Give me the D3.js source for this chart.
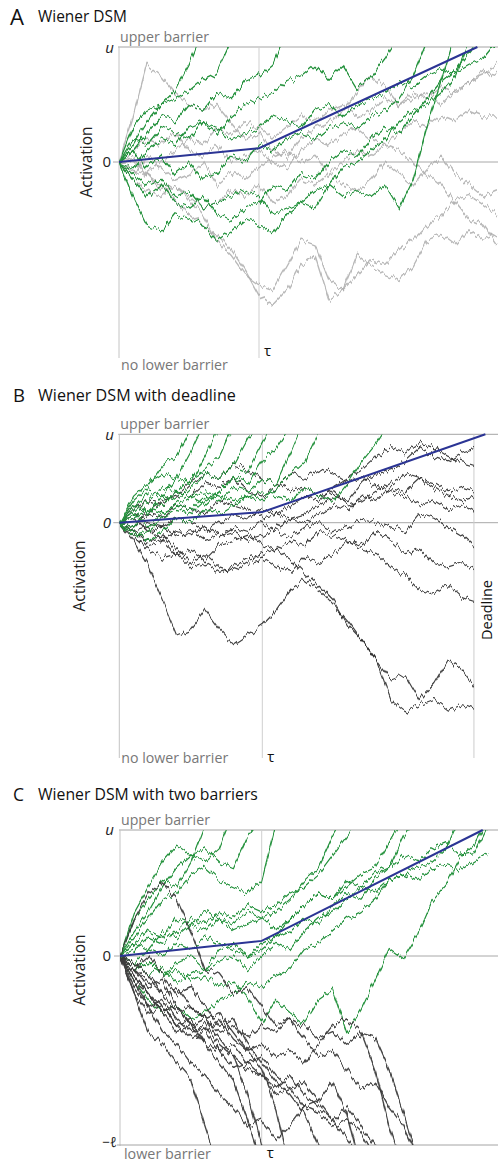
<!DOCTYPE html>
<html>
<head>
<meta charset="utf-8">
<script src="https://cdn.jsdelivr.net/npm/d3@7"></script>
<style>
  body { margin: 0; background: #fff; }
  svg { display: block; }
  text { font-family: "Open Sans", "DejaVu Sans", sans-serif; }
</style>
</head>
<body>
<svg id="fig" width="498" height="1163"></svg>
<script>
// Sampling step of every simulated path, in units of tau.
const dt = 0.1;

// Piecewise drift of the diffusion (mean trajectory): slow before tau, faster after.
const driftTimes  = [0, 1, 2.56];
const driftLevels = [0, 0.12, 1];

// Barrier levels (activation units, upper barrier u = 1).
const upperBarrier = 1;
const lowerBarrier = -1.5;
const deadlineTime = 2.48;

// Panel A: Wiener DSM, no lower barrier.
const wienerHits = [
  [0,0.3,0.45,0.5,0.62,0.85,1.15],
  [0,0.15,0.35,0.5,0.55,0.62,0.72,0.78,1.05],
  [0,0.1,0.25,0.4,0.35,0.5,0.45,0.6,0.55,0.7,0.75,0.85,1.15],
  [0,-0.05,0.1,0.2,0.15,0.3,0.35,0.25,0.4,0.5,0.55,0.6,0.7,0.75,0.85,0.72,0.83,0.63,0.74,0.9,1.1],
  [0,-0.1,-0.2,-0.15,-0.3,-0.25,-0.4,-0.35,-0.3,-0.25,-0.3,-0.45,-0.4,-0.35,-0.4,-0.2,-0.3,-0.25,-0.3,-0.2,-0.4,-0.15,0.3,0.7,1.1],
  [0,-0.3,-0.55,-0.6,-0.45,-0.5,-0.55,-0.68,-0.6,-0.5,-0.55,-0.62,-0.45,-0.35,-0.25,-0.2,-0.05,0.0,0.1,0.2,0.35,0.45,0.5,0.6,0.75,1.05],
  [0,0.1,-0.05,0.05,-0.1,0.0,-0.15,-0.1,0.05,0.0,0.15,0.1,0.2,0.25,0.2,0.3,0.35,0.3,0.4,0.45,0.55,0.75,1.05],
  [0,0.2,0.15,0.3,0.25,0.2,0.35,0.3,0.2,0.25,0.3,0.4,0.35,0.3,0.45,0.5,0.4,0.5,0.55,0.6,0.7,0.65,0.75,0.8,0.78,0.85,0.9,1.05],
  [0,-0.15,-0.3,-0.2,-0.35,-0.4,-0.3,-0.45,-0.5,-0.4,-0.35,-0.2,-0.25,-0.1,-0.15,0.0,0.1,0.05,0.2,0.3,0.25,0.4,0.55,0.7,0.8,0.95,1.1]
];
const wienerOpen = [
  [0,0.4,0.85,0.75,0.6,0.5,0.45,0.5,0.35,0.2,0.25,0.1,0.05,0.2,0.3,0.35,0.45,0.6,0.75,0.65,0.5,0.55,0.6,0.5,0.62,0.7,0.75,0.85],
  [0,0.1,0.2,0.15,0.25,0.1,0.05,0.15,0.0,0.05,0.1,0.0,-0.05,0.1,0.2,0.15,0.25,0.3,0.2,0.15,0.25,0.35,0.3,0.4,0.35,0.45,0.4,0.4],
  [0,-0.1,0.05,-0.05,-0.15,-0.1,0.0,-0.2,-0.1,-0.15,-0.05,0.05,0.1,0.0,0.05,-0.1,0.0,0.1,0.05,0.15,0.1,0.0,-0.1,-0.2,-0.35,-0.5,-0.55,-0.72],
  [0,0.02,-0.11,-0.2,-0.33,-0.46,-0.55,-0.63,-0.76,-0.94,-1.16,-1.24,-1.11,-0.89,-0.81,-1.2,-1.11,-0.98,-0.85,-0.89,-0.76,-0.68,-0.55,-0.46,-0.33,-0.29,-0.37,-0.46],
  [0,-0.07,-0.11,-0.24,-0.2,-0.33,-0.46,-0.68,-0.81,-0.98,-1.07,-1.11,-0.9,-0.68,-0.72,-1.03,-1.11,-0.81,-0.9,-0.98,-1.03,-0.9,-0.68,-0.63,-0.72,-0.59,-0.68,-0.63],
  [0,0.05,-0.1,0.0,0.1,0.2,0.15,0.3,0.25,0.35,0.3,0.2,0.3,0.4,0.35,0.45,0.5,0.4,0.45,0.55,0.5,0.6,0.55,0.65,0.6,0.7,0.78,0.75],
  [0,-0.15,-0.25,-0.3,-0.2,-0.3,-0.4,-0.35,-0.25,-0.3,-0.2,-0.35,-0.3,-0.15,-0.2,-0.1,-0.2,-0.25,-0.15,0.0,-0.1,-0.2,-0.05,0.05,-0.1,-0.2,-0.3,-0.25]
];

// Panel B: Wiener DSM with deadline.
const deadlineHits = [
  [0,0.3,0.45,0.55,0.5,0.8,1.15],
  [0,0.15,0.35,0.3,0.5,0.45,0.75,1.1],
  [0,0.1,0.25,0.4,0.35,0.5,0.6,0.75,1.1],
  [0,0.2,0.1,0.3,0.25,0.4,0.55,0.5,0.65,0.95,1.1],
  [0,-0.05,0.15,0.2,0.35,0.3,0.2,0.35,0.5,0.6,0.9,1.2],
  [0,0.1,-0.05,0.1,0.2,0.15,0.3,0.25,0.4,0.35,0.5,0.45,0.8,1.2],
  [0,-0.1,-0.2,-0.1,0.05,0.0,0.15,0.1,0.2,0.3,0.25,0.4,0.55,0.7,1.05],
  [0,0.05,0.15,0.1,0.2,0.3,0.35,0.3,0.25,0.3,0.35,0.3,0.25,0.4,0.3,0.25,0.45,0.7,0.9,1.15],
  [0,0.25,0.4,0.65,0.75,1.05],
  [0,-0.15,-0.1,0.05,0.15,0.1,0.25,0.35,0.5,0.45,0.7,0.85,1.1]
];
const deadlineOpen = [
  [0,-0.2,-0.48,-0.87,-1.27,-1.21,-0.99,-1.21,-1.38,-1.27,-1.16,-0.99,-0.76,-0.65,-0.76,-0.93,-1.11,-1.33,-1.56,-2.01,-2.14,-2.06,-2.0,-2.12,-2.06,-2.12],
  [0,-0.09,-0.25,-0.2,-0.37,-0.31,-0.42,-0.25,-0.2,-0.14,-0.25,-0.31,-0.42,-0.59,-0.71,-0.88,-1.16,-1.33,-1.56,-1.78,-1.72,-2.0,-1.83,-1.55,-1.67,-1.89],
  [0,-0.15,-0.3,-0.4,-0.35,-0.5,-0.45,-0.55,-0.5,-0.4,-0.35,-0.3,-0.2,-0.25,-0.1,-0.15,-0.2,-0.3,-0.35,-0.5,-0.6,-0.75,-0.8,-0.7,-0.85,-0.9],
  [0,-0.1,-0.2,-0.15,-0.3,-0.45,-0.35,-0.5,-0.55,-0.45,-0.4,-0.5,-0.55,-0.4,-0.45,-0.35,-0.2,-0.25,-0.1,-0.2,-0.35,-0.3,-0.45,-0.5,-0.45,-0.55],
  [0,0.1,0.0,-0.05,-0.15,-0.1,-0.2,-0.15,-0.05,-0.1,0.0,-0.1,-0.15,-0.05,0.0,-0.1,-0.05,0.05,0.0,-0.05,-0.1,0.1,0.05,-0.05,-0.15,-0.3],
  [0,0.15,0.25,0.2,0.35,0.3,0.45,0.4,0.5,0.35,0.3,0.4,0.55,0.5,0.6,0.55,0.45,0.5,0.4,0.35,0.3,0.2,0.25,0.15,0.2,0.1],
  [0,0.2,0.1,0.25,0.3,0.45,0.55,0.5,0.65,0.6,0.5,0.45,0.35,0.4,0.3,0.35,0.2,0.25,0.35,0.45,0.55,0.5,0.45,0.35,0.4,0.35],
  [0,-0.05,0.1,0.05,0.2,0.15,0.1,0.25,0.2,0.15,0.05,0.1,0.2,0.3,0.25,0.4,0.5,0.6,0.75,0.85,0.8,0.9,0.85,0.75,0.7,0.65],
  [0,0.05,-0.1,-0.05,0.05,0.0,-0.1,0.0,0.1,0.05,0.15,0.1,0.05,0.1,0.2,0.3,0.25,0.45,0.55,0.6,0.7,0.85,0.75,0.7,0.8,0.85],
  [0,-0.1,-0.05,-0.2,-0.1,-0.15,-0.05,-0.15,-0.1,-0.2,-0.15,-0.05,0.05,0.0,0.1,0.2,0.15,0.3,0.25,0.4,0.35,0.5,0.4,0.3,0.25,0.3]
];

// Panel C: Wiener DSM with two barriers.
const twoBarrierUpper = [
  [0,0.3,0.45,0.6,0.55,0.75,1.05],
  [0,0.2,0.35,0.55,0.7,0.8,0.75,0.85,1.15],
  [0,0.35,0.55,0.75,0.88,0.8,0.85,0.75,0.7,0.95,1.1],
  [0,0.15,0.3,0.45,0.5,0.65,0.7,0.6,0.55,0.5,0.6,1.05],
  [0,0.1,0.2,0.15,0.3,0.25,0.35,0.3,0.2,0.25,0.3,0.35,0.45,0.6,0.7,0.95,1.15],
  [0,0.05,0.15,0.1,0.2,0.3,0.25,0.35,0.3,0.4,0.35,0.4,0.5,0.55,0.65,0.8,0.95,1.1],
  [0,-0.05,0.05,0.0,0.1,0.05,0.15,0.1,0.05,0.0,0.1,0.15,0.3,0.4,0.5,0.45,0.55,0.65,0.7,0.9,1.1],
  [0,-0.1,-0.05,-0.15,-0.05,0.0,-0.1,0.05,0.1,0.0,0.05,0.15,0.2,0.3,0.25,0.4,0.5,0.45,0.6,0.7,0.95,1.1],
  [0,-0.05,-0.15,-0.1,-0.2,-0.15,-0.1,-0.05,0.0,-0.1,0.0,0.1,0.05,0.2,0.3,0.35,0.45,0.55,0.5,0.6,0.65,0.7,0.75,0.85,1.1],
  [0,-0.1,-0.05,-0.15,-0.1,-0.2,-0.15,-0.25,-0.2,-0.33,-0.53,-0.35,-0.45,-0.53,-0.35,-0.27,-0.61,-0.43,-0.19,0.06,-0.02,0.17,0.43,0.56,0.78,0.88,1.1],
  [0,0.1,0.05,0.2,0.15,0.25,0.2,0.3,0.25,0.35,0.3,0.2,0.3,0.4,0.5,0.45,0.6,0.55,0.65,0.7,0.8,0.75,0.85,0.9,0.8,0.82,1.05],
  [0,-0.2,-0.35,-0.45,-0.4,-0.5,-0.45,-0.35,-0.3,-0.2,-0.25,-0.15,-0.1,0.05,0.1,0.2,0.3,0.35,0.45,0.6,0.65,0.6,0.7,0.72,0.68,0.75,0.82]
];
const twoBarrierLower = [
  [0,-0.3,-0.6,-0.7,-0.85,-0.98,-1.35,-1.7],
  [0,-0.15,-0.3,-0.4,-0.55,-0.5,-0.7,-0.85,-1.0,-1.3,-1.65],
  [0,-0.1,-0.25,-0.2,-0.4,-0.55,-0.5,-0.65,-0.8,-1.1,-1.5,-1.7],
  [0,-0.05,-0.15,-0.3,-0.25,-0.4,-0.5,-0.45,-0.6,-0.75,-0.9,-1.2,-1.7],
  [0,-0.1,0.0,-0.15,-0.3,-0.25,-0.4,-0.55,-0.5,-0.7,-0.85,-1.0,-1.1,-1.25,-1.5,-1.7],
  [0,-0.2,-0.4,-0.35,-0.5,-0.6,-0.55,-0.7,-0.8,-0.9,-0.95,-1.1,-1.05,-1.2,-1.15,-1.0,-1.25,-1.7],
  [0,-0.15,-0.3,-0.45,-0.4,-0.55,-0.6,-0.5,-0.65,-0.75,-0.7,-0.8,-0.75,-0.85,-0.7,-0.55,-0.5,-0.6,-0.9,-1.35,-1.7],
  [0,-0.1,-0.2,-0.3,-0.45,-0.4,-0.5,-0.6,-0.55,-0.65,-0.55,-0.6,-0.5,-0.55,-0.65,-0.6,-0.7,-0.62,-0.65,-0.9,-1.25,-1.6],
  [0,0.3,0.5,0.58,0.45,0.2,-0.1,-0.15,-0.3,-0.25,-0.4,-0.55,-0.5,-0.65,-0.8,-0.75,-0.9,-1.05,-1.0,-1.2,-1.35,-1.6],
  [0,-0.25,-0.4,-0.6,-0.7,-0.85,-0.95,-1.1,-1.2,-1.35,-1.3,-1.45,-1.35,-1.2,-1.25,-1.35,-1.3,-1.4,-1.6],
  [0,-0.2,-0.3,-0.45,-0.6,-0.55,-0.7,-0.75,-0.9,-0.85,-0.95,-1.05,-0.95,-1.1,-1.2,-1.3,-1.2,-1.35,-1.5,-1.7],
  [0,-0.3,-0.45,-0.4,-0.55,-0.65,-0.6,-0.75,-0.7,-0.85,-0.8,-0.95,-1.05,-1.0,-1.15,-1.3,-1.45,-1.6]
];

const GREEN = "#22913b";
const BLUE = "#2b3494";
const LABEL_GRAY = "#777";

const fig = d3.select("#fig");
const defs = fig.append("defs");

// Vertical-only jitter on the simulated traces, so each path shows the fine
// up/down steps of a diffusion without breaking the stroke apart.
function roughFilter(id, seed) {
  const f = defs.append("filter").attr("id", id)
    .attr("x", "-2%").attr("y", "-3%").attr("width", "104%").attr("height", "106%");
  f.append("feTurbulence").attr("type", "fractalNoise").attr("baseFrequency", "0.3 0.02")
    .attr("numOctaves", 3).attr("seed", seed).attr("result", "noise");
  f.append("feColorMatrix").attr("in", "noise").attr("type", "matrix")
    .attr("values", "0 0 0 0 0.5  0 1 0 0 0  0 0 1 0 0  0 0 0 0 1").attr("result", "vnoise");
  f.append("feDisplacementMap").attr("in", "SourceGraphic").attr("in2", "vnoise")
    .attr("scale", 11).attr("xChannelSelector", "R").attr("yChannelSelector", "G");
}

// Scale a label's font size so its rendered width matches the layout width.
function fitWidth(sel, width) {
  const w = sel.node().getComputedTextLength();
  if (w > 0) sel.attr("font-size", (+sel.attr("font-size")) * width / w);
  return sel;
}

function drawPanel(cfg) {
  const g = fig.append("g");
  const x = d3.scaleLinear().domain([0, 1]).range([cfg.left, cfg.tauX]);
  const y = d3.scaleLinear().domain([0, upperBarrier]).range([cfg.zeroY, cfg.topY]);
  const right = cfg.right;

  // Panel letter and title
  fitWidth(g.append("text").attr("x", cfg.letterX).attr("y", cfg.letterY)
    .attr("font-size", 18).attr("fill", "#111").text(cfg.letter), cfg.letterW);
  fitWidth(g.append("text").attr("x", 38).attr("y", cfg.titleY)
    .attr("font-size", 15).attr("fill", "#111").text(cfg.title), cfg.titleW);

  // Frame: upper barrier, zero line, time origin, tau marker
  const frame = g.append("g").attr("stroke-width", 1).attr("fill", "none");
  frame.append("line").attr("x1", cfg.left - 1).attr("x2", right)
    .attr("y1", y(upperBarrier)).attr("y2", y(upperBarrier)).attr("stroke", "#a4a4a4");
  frame.append("line").attr("x1", cfg.left - 6).attr("x2", right)
    .attr("y1", y(0)).attr("y2", y(0)).attr("stroke", "#a8a8a8");
  frame.append("line").attr("x1", x(0)).attr("x2", x(0))
    .attr("y1", y(upperBarrier)).attr("y2", cfg.bottomY).attr("stroke", "#c4c4c4");
  frame.append("line").attr("x1", x(1)).attr("x2", x(1))
    .attr("y1", y(upperBarrier)).attr("y2", cfg.bottomY).attr("stroke", "#cfcfcf");
  if (cfg.deadline) {
    frame.append("line").attr("x1", x(deadlineTime)).attr("x2", x(deadlineTime))
      .attr("y1", y(upperBarrier)).attr("y2", cfg.bottomY).attr("stroke", "#cccccc");
  }
  if (cfg.lowerBarrier) {
    frame.append("line").attr("x1", cfg.left - 3).attr("x2", right)
      .attr("y1", y(lowerBarrier)).attr("y2", y(lowerBarrier)).attr("stroke", "#a4a4a4");
  }

  // Clip region for the simulated paths
  const clipTop = y(upperBarrier);
  const clipBottom = cfg.lowerBarrier ? y(lowerBarrier) : cfg.bottomY;
  const clipRight = cfg.deadline ? x(deadlineTime) : right;
  const clipId = "clip" + cfg.letter;
  defs.append("clipPath").attr("id", clipId).append("rect")
    .attr("x", cfg.left).attr("y", clipTop)
    .attr("width", clipRight - cfg.left).attr("height", clipBottom - clipTop);
  roughFilter("rough" + cfg.letter, cfg.seed);

  const path = d3.line().x((d, i) => x(i * dt)).y(d => y(d));
  const traces = g.append("g").attr("clip-path", `url(#${clipId})`)
    .append("g").attr("filter", `url(#rough${cfg.letter})`)
    .attr("fill", "none").attr("stroke-linejoin", "round");

  cfg.layers.forEach(layer => {
    traces.append("g")
      .attr("stroke", layer.color).attr("stroke-width", layer.width)
      .attr("stroke-opacity", layer.opacity)
      .selectAll("path").data(layer.data).join("path")
      .attr("d", path);
  });

  // Drift line
  const drift = driftTimes.map((t, i) => [t, driftLevels[i]]);
  g.append("path").datum(drift)
    .attr("fill", "none").attr("stroke", BLUE).attr("stroke-width", 2)
    .attr("d", d3.line().x(d => x(d[0])).y(d => y(d[1])));

  // Level labels
  g.append("text").attr("x", 114).attr("y", y(upperBarrier) + cfg.uDy)
    .attr("text-anchor", "end").attr("font-size", 15).attr("font-style", "italic")
    .attr("fill", "#222").text("u");
  g.append("text").attr("x", 111).attr("y", y(0) + 5)
    .attr("text-anchor", "end").attr("font-size", 15)
    .attr("font-style", cfg.italicZero ? "italic" : "normal")
    .attr("fill", "#222").text("0");
  if (cfg.lowerBarrier) {
    g.append("text").attr("x", 117).attr("y", y(lowerBarrier) + 2)
      .attr("text-anchor", "end").attr("font-size", 14).attr("font-style", "italic")
      .attr("fill", "#222").text("\u2212\u2113");
  }

  fitWidth(g.append("text").attr("x", cfg.left + 1).attr("y", y(upperBarrier) - 5)
    .attr("font-size", 14).attr("fill", LABEL_GRAY).text("upper barrier"), 89);
  fitWidth(g.append("text").attr("x", cfg.left + (cfg.lowerBarrier ? 4 : 2)).attr("y", cfg.lowLabelY)
    .attr("font-size", 14).attr("fill", LABEL_GRAY)
    .text(cfg.lowerBarrier ? "lower barrier" : "no lower barrier"), cfg.lowerBarrier ? 87 : 107);
  g.append("text").attr("x", x(1) + 5).attr("y", cfg.tauLabelY)
    .attr("font-size", 15).attr("fill", "#111").text("\u03c4");

  fitWidth(g.append("text")
    .attr("transform", `translate(${cfg.actX},${cfg.actY}) rotate(-90)`)
    .attr("text-anchor", "middle").attr("font-size", 15).attr("fill", "#222")
    .text("Activation"), 71);

  if (cfg.deadline) {
    fitWidth(g.append("text")
      .attr("transform", `translate(492,${cfg.deadlineLabelY}) rotate(-90)`)
      .attr("text-anchor", "middle").attr("font-size", 14).attr("fill", "#111")
      .text("Deadline"), 60);
  }
}

drawPanel({
  letter: "A", title: "Wiener DSM", letterX: 10, letterY: 25, letterW: 14, titleY: 22, titleW: 89,
  left: 119, tauX: 259, right: 498, topY: 47, zeroY: 162, bottomY: 358, seed: 4,
  uDy: 6, lowLabelY: 370, tauLabelY: 356, actX: 92, actY: 162,
  layers: [
    { data: wienerOpen, color: "#adadad", width: 1.4, opacity: 0.85 },
    { data: wienerHits, color: GREEN, width: 1.3, opacity: 1 }
  ]
});

drawPanel({
  letter: "B", title: "Wiener DSM with deadline", letterX: 13, letterY: 402, letterW: 12, titleY: 401, titleW: 198,
  left: 119.3, tauX: 262.3, right: 498, topY: 434.3, zeroY: 522.7, bottomY: 758, seed: 9,
  uDy: 6, italicZero: true, lowLabelY: 763, tauLabelY: 762, actX: 85, actY: 576,
  deadline: true, deadlineLabelY: 610,
  layers: [
    { data: deadlineOpen, color: "#2e2e2e", width: 1.2, opacity: 0.9 },
    { data: deadlineHits, color: GREEN, width: 1.2, opacity: 1 }
  ]
});

drawPanel({
  letter: "C", title: "Wiener DSM with two barriers", letterX: 13, letterY: 801, letterW: 11, titleY: 800, titleW: 220,
  left: 120, tauX: 261.7, right: 498, topY: 830, zeroY: 956, bottomY: 1146, seed: 17,
  uDy: 5, lowerBarrier: true, lowLabelY: 1159, tauLabelY: 1158, actX: 85, actY: 970,
  layers: [
    { data: twoBarrierUpper, color: GREEN, width: 1.2, opacity: 1 },
    { data: twoBarrierLower, color: "#3d3d3d", width: 1.4, opacity: 0.95 }
  ]
});
</script>
</body>
</html>
